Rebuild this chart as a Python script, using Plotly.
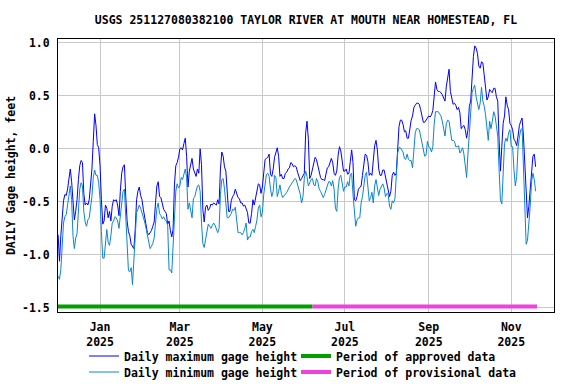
import plotly.graph_objects as go
import pandas as pd

# ---------------- data ----------------
start_date = "2024-12-01"

daily_max = [
    -0.81, -1.06, -0.82, -0.67, -0.49, -0.43, -0.44, -0.38, -0.26, -0.19,
    -0.31, -0.54, -0.67, -0.59, -0.48, -0.29, -0.16, -0.11, -0.13, -0.42,
    -0.53, -0.51, -0.53, -0.48, -0.35, -0.19, 0.07, 0.33, 0.22, 0.04,
    0.01, -0.16, -0.48, -0.71, -0.68, -0.53, -0.56, -0.65, -0.59, -0.68,
    -0.54, -0.48, -0.49, -0.48, -0.53, -0.63, -0.40, -0.23, -0.17, -0.15,
    -0.45, -0.68, -0.78, -0.82, -0.90, -0.92, -0.94, -0.76, -0.48, -0.40,
    -0.36, -0.44, -0.48, -0.57, -0.65, -0.72, -0.79, -0.81, -0.79, -0.77,
    -0.73, -0.69, -0.51, -0.35, -0.31, -0.45, -0.46, -0.51, -0.57, -0.59,
    -0.61, -0.71, -0.68, -0.77, -0.83, -0.76, -0.34, -0.16, -0.13, -0.08,
    0.00, 0.01, -0.01, 0.05, 0.10, -0.07, -0.36, -0.21, -0.15, -0.09,
    -0.19, -0.23, -0.26, -0.19, -0.23, 0.00, -0.15, -0.57, -0.69, -0.55,
    -0.53, -0.58, -0.56, -0.52, -0.53, -0.51, -0.52, -0.53, -0.48, -0.52,
    -0.19, -0.03, -0.07, -0.17, -0.21, -0.45, -0.59, -0.59, -0.49, -0.45,
    -0.43, -0.38, -0.43, -0.46, -0.47, -0.51, -0.51, -0.54, -0.53, -0.57,
    -0.60, -0.70, -0.70, -0.61, -0.48, -0.53, -0.46, -0.40, -0.33, -0.34,
    -0.42, -0.36, -0.24, -0.10, -0.09, -0.08, -0.05, -0.24, -0.26, -0.19,
    -0.08, -0.02, 0.01, -0.07, -0.26, -0.24, -0.28, -0.28, -0.23, -0.22,
    -0.19, -0.18, -0.13, -0.14, -0.17, -0.16, -0.17, -0.22, -0.26, -0.30,
    -0.28, -0.25, -0.23, 0.15, 0.26, 0.09, -0.28, -0.25, -0.19, -0.16,
    -0.08, -0.10, -0.17, -0.23, -0.27, -0.29, -0.29, -0.30, -0.24, -0.18,
    -0.17, -0.12, -0.09, -0.13, -0.23, -0.25, -0.21, -0.06, 0.02, -0.02,
    -0.12, -0.21, -0.21, -0.19, -0.24, -0.23, -0.12, -0.01, -0.13, -0.48,
    -0.49, -0.45, -0.38, -0.36, -0.35, -0.25, -0.14, -0.05, -0.06, -0.12,
    -0.25, -0.23, -0.25, -0.12, 0.03, 0.08, -0.01, -0.19, -0.25, -0.25,
    -0.20, -0.20, -0.26, -0.34, -0.40, -0.45, -0.40, -0.25, -0.22, -0.25,
    -0.23, 0.01, 0.21, 0.27, 0.27, 0.23, 0.16, 0.17, 0.10, 0.10,
    0.19, 0.27, 0.31, 0.39, 0.41, 0.43, 0.43, 0.42, 0.37, 0.30,
    0.25, 0.25, 0.27, 0.28, 0.31, 0.30, 0.32, 0.36, 0.48, 0.63,
    0.56, 0.54, 0.54, 0.53, 0.51, 0.48, 0.45, 0.59, 0.68, 0.75,
    0.54, 0.48, 0.42, 0.43, 0.41, 0.37, 0.39, 0.34, 0.19, 0.21,
    0.22, 0.18, 0.10, 0.18, 0.40, 0.45, 0.71, 0.87, 0.97, 0.95,
    0.90, 0.78, 0.76, 0.82, 0.81, 0.71, 0.59, 0.46, 0.49, 0.56,
    0.54, 0.53, 0.57, 0.57, 0.49, 0.45, 0.08, -0.21, 0.02, 0.24,
    0.31, 0.49, 0.41, 0.37, 0.24, 0.22, 0.18, 0.09, 0.07, 0.03,
    0.12, 0.22, 0.26, 0.29, 0.12, -0.18, -0.51, -0.65, -0.54, -0.36,
    -0.20, -0.07, -0.05, -0.17,
]

daily_min = [
    -1.20, -1.23, -1.14, -0.95, -0.70, -0.64, -0.62, -0.53, -0.42, -0.35,
    -0.48, -0.82, -0.94, -0.84, -0.80, -0.54, -0.38, -0.32, -0.35, -0.59,
    -0.69, -0.73, -0.67, -0.65, -0.57, -0.45, -0.27, -0.20, -0.25, -0.25,
    -0.32, -0.48, -0.78, -1.03, -1.03, -0.86, -0.76, -0.88, -0.91, -0.82,
    -0.70, -0.68, -0.64, -0.65, -0.68, -0.75, -0.62, -0.49, -0.40, -0.38,
    -0.68, -0.95, -1.15, -1.16, -1.12, -1.28, -1.06, -0.82, -0.60, -0.57,
    -0.53, -0.56, -0.60, -0.64, -0.69, -0.75, -0.82, -0.89, -0.94, -0.92,
    -0.89, -0.84, -0.67, -0.56, -0.51, -0.61, -0.63, -0.66, -0.64, -0.67,
    -0.68, -0.72, -1.14, -1.14, -1.17, -0.92, -0.64, -0.40, -0.33, -0.37,
    -0.35, -0.27, -0.29, -0.23, -0.19, -0.27, -0.57, -0.51, -0.57, -0.65,
    -0.47, -0.45, -0.40, -0.35, -0.34, -0.40, -0.70, -0.89, -0.93, -0.86,
    -0.79, -0.71, -0.73, -0.75, -0.72, -0.70, -0.72, -0.76, -0.79, -0.75,
    -0.43, -0.29, -0.28, -0.38, -0.51, -0.65, -0.65, -0.63, -0.61, -0.57,
    -0.58, -0.55, -0.67, -0.79, -0.79, -0.79, -0.81, -0.79, -0.75, -0.70,
    -0.86, -0.83, -0.83, -0.78, -0.76, -0.79, -0.73, -0.67, -0.56, -0.53,
    -0.64, -0.60, -0.43, -0.32, -0.24, -0.23, -0.26, -0.38, -0.45, -0.40,
    -0.25, -0.27, -0.45, -0.40, -0.34, -0.42, -0.46, -0.44, -0.43, -0.41,
    -0.38, -0.36, -0.34, -0.32, -0.31, -0.28, -0.29, -0.33, -0.39, -0.43,
    -0.51, -0.45, -0.28, -0.21, -0.26, -0.35, -0.32, -0.29, -0.28, -0.34,
    -0.35, -0.28, -0.31, -0.38, -0.40, -0.43, -0.46, -0.43, -0.39, -0.35,
    -0.31, -0.31, -0.35, -0.30, -0.38, -0.56, -0.59, -0.38, -0.27, -0.25,
    -0.32, -0.40, -0.36, -0.36, -0.31, -0.35, -0.24, -0.23, -0.43, -0.62,
    -0.73, -0.67, -0.65, -0.65, -0.51, -0.45, -0.33, -0.25, -0.22, -0.39,
    -0.49, -0.46, -0.41, -0.51, -0.35, -0.29, -0.38, -0.44, -0.38, -0.36,
    -0.33, -0.37, -0.45, -0.42, -0.43, -0.54, -0.57, -0.49, -0.51, -0.47,
    -0.21, -0.04, 0.01, 0.01, -0.01, -0.03, -0.09, -0.10, -0.05, -0.10,
    -0.11, -0.11, -0.18, -0.04, 0.15, 0.19, 0.19, 0.18, 0.12, 0.05,
    0.01, -0.07, -0.06, 0.07, 0.02, 0.01, -0.03, 0.02, 0.23, 0.35,
    0.35, 0.35, 0.33, 0.31, 0.26, 0.17, 0.12, 0.24, 0.27, 0.26,
    0.17, 0.08, 0.08, 0.07, 0.02, 0.02, 0.03, -0.04, -0.02, 0.01,
    -0.05, -0.20, -0.27, -0.04, 0.14, 0.42, 0.53, 0.57, 0.60, 0.49,
    0.43, 0.37, 0.43, 0.58, 0.45, 0.40, 0.32, 0.18, 0.08, 0.26,
    0.19, 0.26, 0.35, 0.31, 0.20, 0.12, -0.20, -0.48, -0.52, -0.29,
    0.05, 0.10, 0.07, 0.15, 0.18, 0.02, 0.02, -0.20, -0.35, -0.26,
    0.01, 0.11, 0.18, 0.19, -0.17, -0.69, -0.90, -0.86, -0.73, -0.54,
    -0.31, -0.23, -0.29, -0.40,
]

approved_dates = ["2024-11-30", "2025-06-07"]
provisional_dates = ["2025-06-07", "2025-11-20"]
period_level = [-1.485, -1.485]

tick_dates = ["2025-01-01", "2025-03-01", "2025-05-01",
              "2025-07-01", "2025-09-01", "2025-11-01"]
tick_labels = ["Jan<br>2025", "Mar<br>2025", "May<br>2025",
               "Jul<br>2025", "Sep<br>2025", "Nov<br>2025"]
y_ticks = [1.0, 0.5, 0.0, -0.5, -1.0, -1.5]
y_tick_labels = ["1.0", "0.5", "0.0", "-0.5", "-1.0", "-1.5"]

title_text = "USGS 251127080382100 TAYLOR RIVER AT MOUTH NEAR HOMESTEAD, FL"

# ---------------- figure ----------------
dates_max = pd.date_range(start_date, periods=len(daily_max), freq="D")
dates_min = pd.date_range(start_date, periods=len(daily_min), freq="D")

FONT = "DejaVu Sans Mono"
FS = 11.5

fig = go.Figure()
fig.add_trace(go.Scatter(x=dates_max, y=daily_max, mode="lines",
                         name="Daily maximum gage height",
                         line=dict(color="#0000FF", width=1),
                         legend="legend"))
fig.add_trace(go.Scatter(x=dates_min, y=daily_min, mode="lines",
                         name="Daily minimum gage height",
                         line=dict(color="#0A86CE", width=1),
                         legend="legend2"))
fig.add_trace(go.Scatter(x=approved_dates, y=period_level, mode="lines",
                         name="Period of approved data",
                         line=dict(color="#00A000", width=4),
                         legend="legend3"))
fig.add_trace(go.Scatter(x=provisional_dates, y=period_level, mode="lines",
                         name="Period of provisional data",
                         line=dict(color="#F040E0", width=4),
                         legend="legend4"))

L, R, T, B = 58, 22, 39, 72
pw = 576 - L - R
ph = 384 - T - B


def px_x(px):
    return (px - L) / pw


def px_y(py):
    return (384 - B - py) / ph


leg_common = dict(xanchor="left", yanchor="middle", bgcolor="rgba(0,0,0,0)",
                  borderwidth=0, itemwidth=30,
                  font=dict(family=FONT, size=FS, color="black", weight="bold"))

fig.update_layout(
    width=576, height=384,
    margin=dict(l=L, r=R, t=T, b=B, autoexpand=False),
    paper_bgcolor="white", plot_bgcolor="white",
    title=dict(text=title_text, x=0.5, xref="paper", xanchor="center",
               y=1 - 19.5 / 384, yref="container", yanchor="middle",
               font=dict(family=FONT, size=FS, color="black", weight="bold")),
    font=dict(family=FONT, size=FS, color="black", weight="bold"),
    showlegend=True,
    hovermode=False,
    legend=dict(x=px_x(84), y=px_y(356), **leg_common),
    legend2=dict(x=px_x(84), y=px_y(372), **leg_common),
    legend3=dict(x=px_x(296), y=px_y(356), **leg_common),
    legend4=dict(x=px_x(296), y=px_y(372), **leg_common),
    xaxis=dict(
        range=["2024-11-30 22:00", "2025-12-02 14:00"],
        tickvals=tick_dates, ticktext=tick_labels,
        showgrid=True, gridcolor="#C8C8C8", gridwidth=1,
        showline=True, linecolor="black", linewidth=1, mirror=True,
        ticks="", ticklabelstandoff=4, zeroline=False, automargin=False,
        tickfont=dict(family=FONT, size=FS, color="black", weight="bold"),
    ),
    yaxis=dict(
        range=[-1.538, 1.035],
        tickvals=y_ticks, ticktext=y_tick_labels,
        showgrid=True, gridcolor="#C8C8C8", gridwidth=1,
        showline=True, linecolor="black", linewidth=1, mirror=True,
        ticks="", ticklabelstandoff=5, zeroline=False, automargin=False,
        title=dict(text="DAILY Gage height, feet", standoff=3,
                   font=dict(family=FONT, size=FS, color="black", weight="bold")),
        tickfont=dict(family=FONT, size=FS, color="black", weight="bold"),
    ),
)

fig.write_html(
    "out.html",
    config={"displayModeBar": False},
    post_script="document.body.style.margin='0px';document.body.style.overflow='hidden';",
)
